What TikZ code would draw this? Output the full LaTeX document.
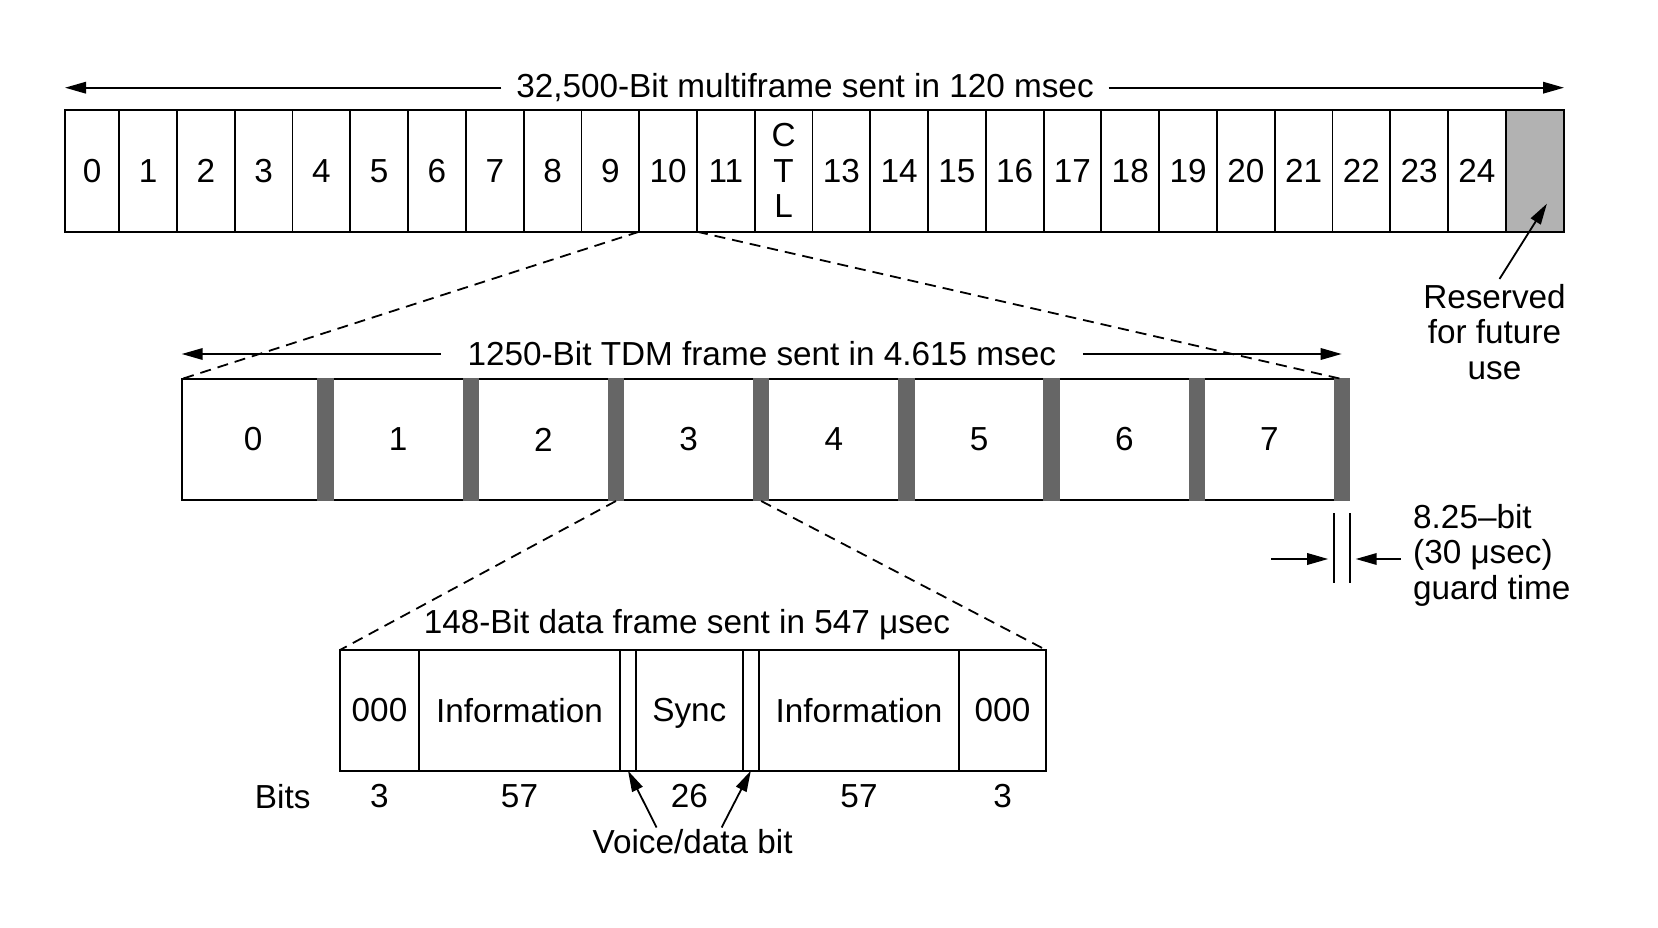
\documentclass[tikz,border=0pt]{standalone}
\usepackage{fontspec}
\setmainfont{Liberation Sans}
\usetikzlibrary{arrows.meta,calc,positioning}

\begin{document}
\begin{tikzpicture}[x=1pt,y=-1pt,
    font=\fontsize{33.3}{35.5}\selectfont,
    line width=1.8pt,
    >={Triangle[length=21pt,width=11.5pt]},
    cell/.style={draw,align=center,minimum height=121.7pt,inner sep=0pt,outer sep=0pt},
    guard/.style={fill=black!60,minimum width=16.5pt,minimum height=123pt,inner sep=0pt,outer sep=0pt},
    expand/.style={dash pattern=on 11pt off 7pt}]
  \useasboundingbox (0,0) rectangle (1658,928);

  % multiframe
  \foreach \t [count=\i from 0] in {0,1,2,3,4,5,6,7,8,9,10,11,{C\\T\\L},13,14,15,16,17,18,19,20,21,22,23,24} {
    \pgfmathsetmacro\xl{max(65,61.5+57.77*\i)}
    \pgfmathsetmacro\xr{61.5+57.77*(\i+1)}
    \node[cell,minimum width={\xr-\xl}] (c\i) at ({(\xl+\xr)/2},170.85) {\t};
  }
  \node[cell,fill=black!30,minimum width=58.27pt,right=0pt of c24] (resvcell) {};

  \node[inner xsep=14pt,inner ysep=0pt] (mf) at (805,87.7) {32,500-Bit multiframe sent in 120 msec};
  \draw[->] (mf.west) -- (mf.west -| c0.west);
  \draw[->] (mf.east) -- (mf.east -| resvcell.east);

  \node[align=center,anchor=north,inner sep=0pt] (resv) at (1494.5,283) {Reserved\\for future\\use};
  \draw[->] ($(resv.north)+(5,-4)$) -- ($(resvcell.south)+(12,-28)$);

  % TDM frame
  \node[draw,minimum width=1160pt,minimum height=121pt,inner sep=0pt,outer sep=0pt] (tdm) at (761.7,439.5) {};
  \foreach \i in {0,...,7} {
    \node[guard] (g\i) at ({325.55+145.2*\i},439.5) {};
    \node (s\i) at ({253.05+145.2*\i},439.5) {\i};
  }
  \node[inner xsep=26pt,inner ysep=0pt] (tdmlab) at (761.8,354) {1250-Bit TDM frame sent in 4.615 msec};
  \draw[->] (tdmlab.west) -- (tdmlab.west -| tdm.west);
  \draw[->] (tdmlab.east) -- (tdmlab.east -| tdm.east);

  \draw[expand] (c10.south west) -- (tdm.north west);
  \draw[expand] (c10.south east) -- (tdm.north east);

  % guard time
  \draw (g7.south west) ++(0,12) coordinate (gl) -- ++(0,70);
  \draw (g7.south east) ++(0,12) coordinate (gr) -- ++(0,70);
  \draw[<-] ($(gl)+(-5.5,46)$) -- ++(-57,0);
  \draw[<-] ($(gr)+(5.5,46)$) -- ++(45,0);
  \node[align=left,anchor=north west,inner sep=0pt] (gtxt) at (1412.3,503) {8.25–bit\\(30 μsec)\\guard time};

  % data frame
  \foreach \l/\r/\t [count=\i] in {340/419/000,419/620/Information,620/636/{},636/742.7/Sync,742.7/759/{},759/959/Information,959/1046/000}
    \node[cell,text depth=0pt,minimum width={\r-\l},minimum height=120.7pt] (f\i) at ({(\l+\r)/2},710.35) {\t};
  \node (dlab) at (687,625) {148-Bit data frame sent in 547 μsec};

  \draw[expand] (g2.south) -- (f1.north west);
  \draw[expand] (g3.south) -- (f7.north east);

  \foreach \i/\b in {1/3,2/57,4/26,6/57,7/3}
    \node[below=13pt of f\i,inner sep=0pt] (b\i) {\b};
  \node[left=58pt of b1,inner sep=0pt] (bits) {Bits};

  \node (vd) at (692.6,842) {Voice/data bit};
  \draw[->] ($(vd.north)+(-36,2)$) -- (f3.south);
  \draw[->] ($(vd.north)+(29,2)$) -- (f5.south);
\end{tikzpicture}
\end{document}
